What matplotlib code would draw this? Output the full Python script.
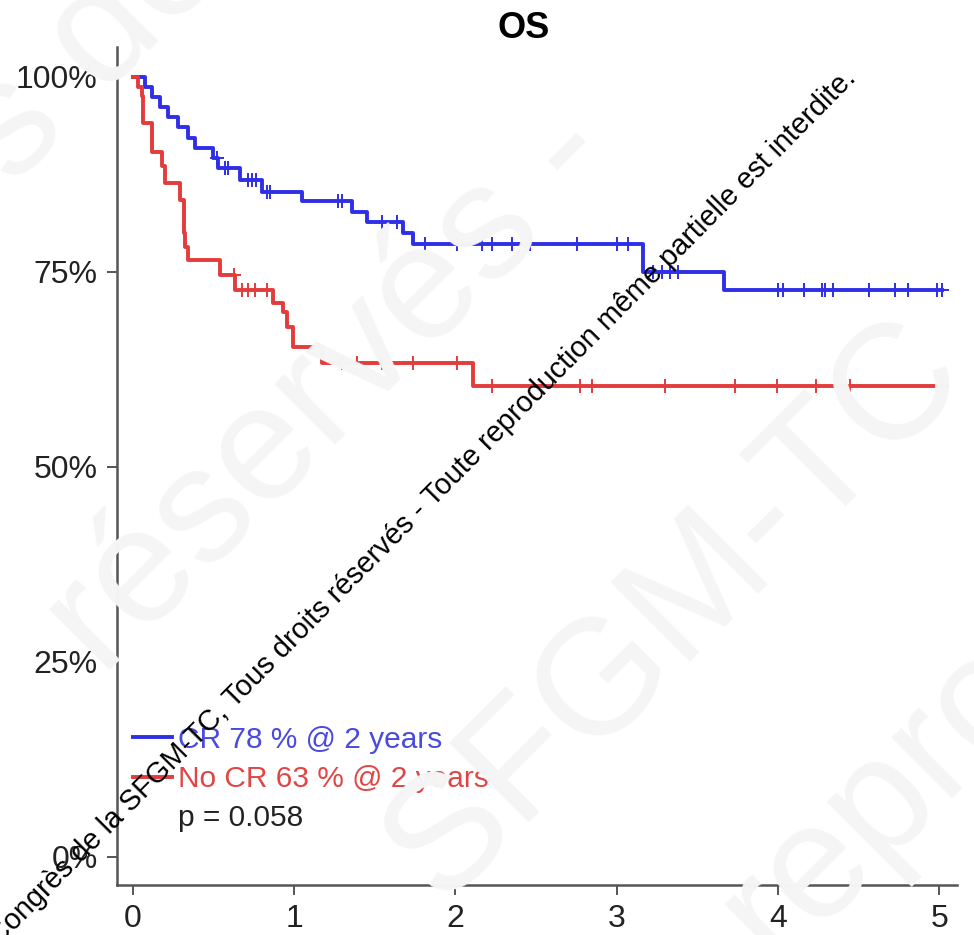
import numpy as np
import matplotlib.pyplot as plt
from matplotlib.lines import Line2D

plt.rcParams['font.family'] = ['Liberation Sans', 'DejaVu Sans']

# CR group: event times (years) and survival (%) after each event
cr_times = [0.074, 0.118, 0.167, 0.217, 0.279, 0.341, 0.385, 0.496, 0.527,
            0.664, 0.800, 1.048, 1.359, 1.452, 1.675, 1.737, 3.164, 3.666]
cr_surv = [98.7, 97.4, 96.1, 94.8, 93.5, 92.2, 90.9, 89.6, 88.3,
           86.8, 85.2, 84.0, 82.7, 81.4, 80.0, 78.5, 74.9, 72.7]
cr_cens = [0.521, 0.571, 0.589, 0.713, 0.738, 0.763, 0.831, 0.850, 1.272,
           1.297, 1.545, 1.638, 1.811, 2.010, 2.165, 2.227, 2.351, 2.463,
           2.754, 3.003, 3.071, 3.226, 3.282, 3.331, 3.381, 4.001, 4.032,
           4.163, 4.274, 4.293, 4.342, 4.566, 4.727, 4.808, 4.988, 5.02]

# No CR group
nocr_times = [0.031, 0.056, 0.062, 0.118, 0.180, 0.199, 0.292, 0.316, 0.323,
              0.341, 0.540, 0.633, 0.868, 0.930, 0.955, 0.993, 1.172, 2.109]
nocr_surv = [98.7, 97.5, 94.1, 90.3, 88.5, 86.4, 84.2, 80.0, 78.2,
             76.5, 74.6, 72.7, 71.0, 69.9, 67.9, 65.4, 63.3, 60.4]
nocr_cens = [0.625, 0.676, 0.713, 0.757, 0.831, 1.297, 1.390, 1.545, 1.737,
             2.010, 2.227, 2.773, 2.848, 3.300, 3.734, 3.995, 4.237, 4.373,
             4.448, 5.02]

labels = ['CR 78 % @ 2 years', 'No CR 63 % @ 2 years', 'p = 0.058']
y_ticks = [0, 25, 50, 75, 100]
x_ticks = [0, 1, 2, 3, 4, 5]

blue = '#2f2fe6'
red = '#e23c3c'

fig = plt.figure(figsize=(9.74, 9.35), dpi=100)

# faint background watermark
wm_big = dict(fontsize=118, color='#f5f5f5', rotation=45, ha='center',
              va='center', rotation_mode='anchor', zorder=0)
fig.text(330 / 974, 1 - 390 / 935, 'réservés -', **wm_big)
fig.text(675 / 974, 1 - 610 / 935, 'SFGM-TC', **wm_big)
fig.text(880 / 974, 1 - 800 / 935, 'repro', **wm_big)
fig.text(60 / 974, 1 - 80 / 935, 'ès de', **wm_big)

ax = fig.add_axes([117 / 974, 1 - 885 / 935, 840 / 974, 838 / 935])
ax.patch.set_alpha(0)


def km_curve(times, surv, cens, color):
    t = np.concatenate([[0], times, [max(cens)]])
    s = np.concatenate([[100], surv, [surv[-1]]])
    ax.step(t, s, where='post', color=color, lw=2.8, zorder=3)
    idx = np.searchsorted(times, cens, side='right')
    s_c = np.concatenate([[100], surv])[idx]
    ax.plot(cens, s_c, ls='none', marker='+', ms=10, mew=1.4,
            color=color, zorder=3)


km_curve(cr_times, cr_surv, cr_cens, blue)
km_curve(nocr_times, nocr_surv, nocr_cens, red)

ax.set_xlim(-0.099, 5.11)
ax.set_ylim(-3.6, 103.8)
ax.set_xticks(x_ticks)
ax.set_xticklabels([str(v) for v in x_ticks])
ax.set_yticks(y_ticks)
ax.set_yticklabels([f'{v}%' for v in y_ticks])
for side in ['top', 'right']:
    ax.spines[side].set_visible(False)
for side in ['left', 'bottom']:
    ax.spines[side].set_color('#555555')
    ax.spines[side].set_linewidth(1.8)
ax.tick_params(axis='both', direction='out', length=7, width=1.4,
               color='#555555', labelsize=23, labelcolor='#222222')
ax.tick_params(axis='y', pad=7)
ax.tick_params(axis='x', pad=7)

handles = [Line2D([], [], color=blue, lw=2.8),
           Line2D([], [], color=red, lw=2.8),
           Line2D([], [], color='none')]
leg = ax.legend(handles, labels, loc='upper left', bbox_to_anchor=(0.019, 0.19),
                frameon=False, fontsize=21.5, handlelength=1.3, handletextpad=0.2,
                borderaxespad=0, borderpad=0, labelspacing=0.38,
                labelcolor=['#4a4ae0', '#e04646', '#222222'])

fig.text(524 / 974, 1 - 28 / 935, 'OS', fontsize=26, fontweight='bold',
         ha='center', va='center')

# diagonal copyright notice
fig.text(422 / 974, 1 - 507 / 935,
         'Congrès de la SFGM-TC, Tous droits réservés - Toute reproduction même partielle est interdite.',
         fontsize=20.8, rotation=45.3, rotation_mode='anchor', ha='center',
         va='center', color='black', zorder=10)

fig.savefig('out.png', dpi=100)
